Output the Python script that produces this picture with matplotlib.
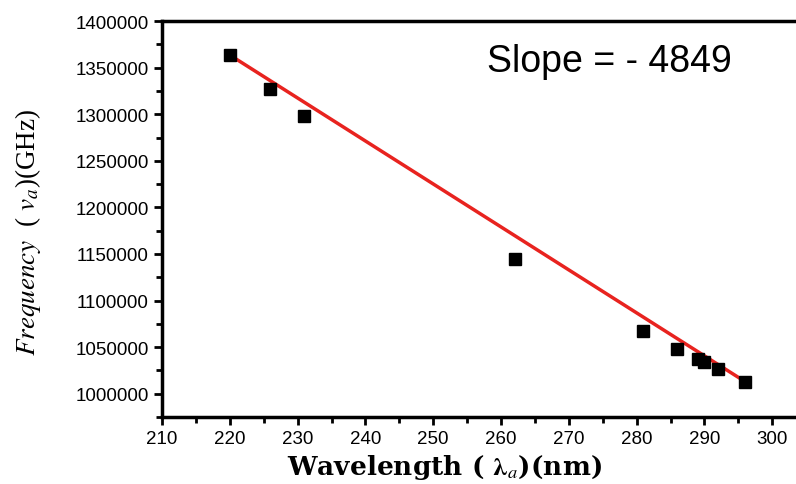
import matplotlib
matplotlib.use('Agg')

import matplotlib.pyplot as plt
import numpy as np
from matplotlib.ticker import MultipleLocator, FormatStrFormatter

# data
wavelength = np.array([220, 226, 231, 262, 281, 286, 289, 290, 292, 296])
frequency = np.array([1363500, 1327000, 1298500, 1145000, 1067000, 1048500,
                      1037500, 1034000, 1027000, 1013000])
slope_text = 'Slope = - 4849'

plt.rcParams['mathtext.fontset'] = 'stix'

fig = plt.figure(figsize=(7.96, 4.85), dpi=100)
ax = fig.add_axes([0.2035, 0.138, 0.7965, 0.8166])

## straight line from first to last point
ax.plot(wavelength[[0, -1]], frequency[[0, -1]], color='#e8231f',
        linewidth=2.5, zorder=2)

## points
ax.plot(wavelength, frequency, 's', color='black', markersize=8, zorder=3)

ax.set_xlim(210, 303.5)
ax.set_ylim(975000, 1400000)
ax.xaxis.set_major_locator(MultipleLocator(10))
ax.xaxis.set_minor_locator(MultipleLocator(5))
ax.yaxis.set_major_locator(MultipleLocator(50000))
ax.yaxis.set_minor_locator(MultipleLocator(25000))
ax.yaxis.set_major_formatter(FormatStrFormatter('%d'))

ax.spines['right'].set_visible(False)
for s in ['top', 'left', 'bottom']:
    ax.spines[s].set_linewidth(2.5)
ax.tick_params(which='major', direction='out', length=6, width=2,
               labelsize=13.5, labelfontfamily='Liberation Sans')
ax.tick_params(which='minor', direction='out', length=4, width=2)

ax.text(0.513, 0.899, slope_text, transform=ax.transAxes, fontsize=27,
        family='Liberation Sans', ha='left', va='center')

ax.set_xlabel(r'Wavelength ( $\mathbf{\lambda}_{a}$)(nm)', fontsize=19,
              family='DejaVu Serif', fontweight='bold', va='center')
ax.xaxis.set_label_coords(0.446, -0.124)
ax.set_ylabel(r'$\it{Frequency}$  ( $v_a$)(GHz)', fontsize=19.5,
              family='Liberation Serif', va='center')
ax.yaxis.set_label_coords(-0.211, 0.47)

plt.savefig('out.png', dpi=100)
